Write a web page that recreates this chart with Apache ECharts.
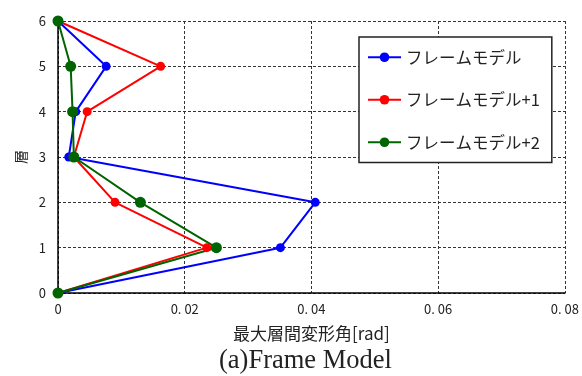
<!DOCTYPE html>
<html>
<head>
<meta charset="utf-8">
<script src="https://cdn.jsdelivr.net/npm/echarts@6/dist/echarts.min.js"></script>
<style>
  html, body { margin: 0; padding: 0; background: #fff; }
  #chart { width: 582px; height: 376px; }
</style>
</head>
<body>
<div id="chart"></div>
<script>
const floors = [0, 1, 2, 3, 4, 5, 6];
const frameModel = [0, 0.0351, 0.0406, 0.0017, 0.0028, 0.0076, 0];
const frameModelPlus1 = [0, 0.0235, 0.0090, 0.0025, 0.0046, 0.0162, 0];
const frameModelPlus2 = [0, 0.0250, 0.0130, 0.0025, 0.0023, 0.0020, 0];
const seriesNames = ['フレームモデル', 'フレームモデル+1', 'フレームモデル+2'];
const seriesColors = ['#0000ff', '#ff0000', '#006400'];

const chart = echarts.init(document.getElementById('chart'));
const jp = '"Noto Sans CJK JP", sans-serif';

const makeSeries = (name, values, color, size) => ({
  name: name,
  type: 'line',
  data: values.map((v, i) => [v, floors[i]]),
  symbol: 'circle',
  symbolSize: size,
  itemStyle: { color: color },
  lineStyle: { color: color, width: 2 },
  animation: false
});

chart.setOption({
  backgroundColor: '#fff',
  title: {
    text: '(a)Frame Model',
    left: 219,
    top: 348,
    padding: 0,
    textStyle: { fontFamily: '"Liberation Serif", serif', fontSize: 26.5, fontWeight: 'normal', color: '#222' }
  },
  legend: {
    data: seriesNames,
    orient: 'vertical',
    left: 359,
    top: 37,
    width: 188,
    padding: [12, 12, 12, 8],
    itemWidth: 33,
    itemHeight: 12,
    itemGap: 26,
    backgroundColor: '#fff',
    borderColor: '#222',
    borderWidth: 1.5,
    textStyle: { fontFamily: jp, fontSize: 16.5, color: '#222' }
  },
  grid: { left: 58, right: 16, top: 21, bottom: 83 },
  xAxis: {
    type: 'value',
    min: 0,
    max: 0.08,
    interval: 0.02,
    name: '最大層間変形角[rad]',
    nameLocation: 'middle',
    nameGap: 32,
    nameTextStyle: { fontFamily: jp, fontSize: 17, color: '#222' },
    axisLine: { show: true, lineStyle: { color: '#000', width: 1.5 } },
    axisTick: { show: false },
    axisLabel: {
      fontFamily: jp, fontSize: 13, color: '#222', margin: 10,
      formatter: v => v === 0 ? '0' : v.toFixed(2).replace('.', '. ')
    },
    splitLine: { show: true, lineStyle: { color: '#333', type: [3, 2], width: 1 } }
  },
  yAxis: {
    type: 'value',
    min: 0,
    max: 6,
    interval: 1,
    name: '層',
    nameLocation: 'middle',
    nameRotate: 90,
    nameGap: 30,
    nameTextStyle: { fontFamily: jp, fontSize: 14, color: '#222' },
    axisLine: { show: true, lineStyle: { color: '#000', width: 1.5 } },
    axisTick: { show: false },
    axisLabel: { fontFamily: jp, fontSize: 13, color: '#222', margin: 12 },
    splitLine: { show: true, lineStyle: { color: '#333', type: [3, 2], width: 1 } }
  },
  series: [
    makeSeries(seriesNames[0], frameModel, seriesColors[0], 9),
    makeSeries(seriesNames[1], frameModelPlus1, seriesColors[1], 9),
    makeSeries(seriesNames[2], frameModelPlus2, seriesColors[2], 11)
  ]
});
</script>
</body>
</html>
